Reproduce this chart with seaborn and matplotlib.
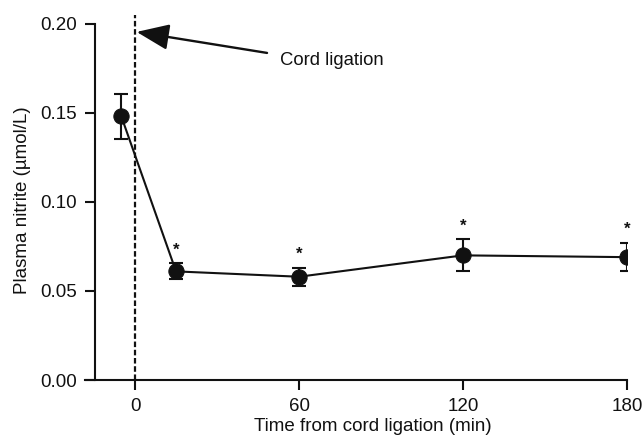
import numpy as np
import pandas as pd
import matplotlib
matplotlib.use('Agg')
import matplotlib.pyplot as plt
import seaborn as sns

# values
time_min = [-5, 15, 60, 120, 180]
nitrite = [0.148, 0.061, 0.058, 0.070, 0.069]
sem = [0.0125, 0.0045, 0.005, 0.009, 0.008]
significant = [False, True, True, True, True]
x_ticks = [0, 60, 120, 180]
y_ticks = [0.00, 0.05, 0.10, 0.15, 0.20]

df = pd.DataFrame({'Time': time_min, 'Nitrite': nitrite, 'SEM': sem})

sns.set_style('ticks')
plt.rcParams['font.family'] = ['Liberation Sans', 'DejaVu Sans']
ink = '#111111'

fig = plt.figure(figsize=(6.43, 4.40), dpi=100)
ax = fig.add_axes([85 / 643, 60 / 440, 542 / 643, 365 / 440])

# cord ligation marker
ax.axvline(0, ymin=0, ymax=1, color=ink, linestyle=(0, (2.5, 1.2)), linewidth=1.6, zorder=1)

sns.lineplot(data=df, x='Time', y='Nitrite', color=ink, linewidth=1.5,
             marker='o', markersize=11, markeredgecolor=ink, ax=ax, zorder=3)
ax.errorbar(df['Time'], df['Nitrite'], yerr=df['SEM'], fmt='none',
            ecolor=ink, elinewidth=1.5, capsize=4.8, capthick=1.5, zorder=2)

# significance stars
for t, v, s, sig in zip(time_min, nitrite, sem, significant):
    if sig:
        ax.text(t, v + s + 0.0075, '*', ha='center', va='center', fontsize=12,
                fontweight='bold', color=ink)

# arrow pointing at the ligation line, label beside its tail
ax.annotate('', xy=(0.6, 0.1955), xytext=(48.3, 0.1837),
            arrowprops=dict(arrowstyle='-|>,head_length=1.0,head_width=0.4',
                            mutation_scale=20, color=ink, lw=1.7,
                            shrinkA=0, shrinkB=0))
ax.text(53, 0.1795, 'Cord ligation', fontsize=13.3, color=ink, va='center', ha='left')

ax.set_xlim(-18.3, 180)
ax.set_ylim(0, 0.205)
ax.set_xticks(x_ticks)
ax.set_yticks(y_ticks)
ax.set_yticklabels([f'{v:.2f}' for v in y_ticks])
ax.spines['left'].set_position(('data', -14.6))
ax.spines['left'].set_bounds(0, 0.20)
ax.spines['bottom'].set_bounds(-18.3, 180)
for side in ['top', 'right']:
    ax.spines[side].set_visible(False)
for side in ['left', 'bottom']:
    ax.spines[side].set_linewidth(1.5)
    ax.spines[side].set_color(ink)
ax.tick_params(direction='out', length=7, width=1.5, colors=ink, labelsize=13.5, pad=6)

ax.set_xlabel('Time from cord ligation (min)', fontsize=13.5, color=ink)
ax.set_ylabel('Plasma nitrite (µmol/L)', fontsize=13.5, color=ink)
ax.xaxis.set_label_coords(0.531, -0.105)
ax.yaxis.set_label_coords(-0.10, 0.493)

fig.savefig('out.png', dpi=100)
